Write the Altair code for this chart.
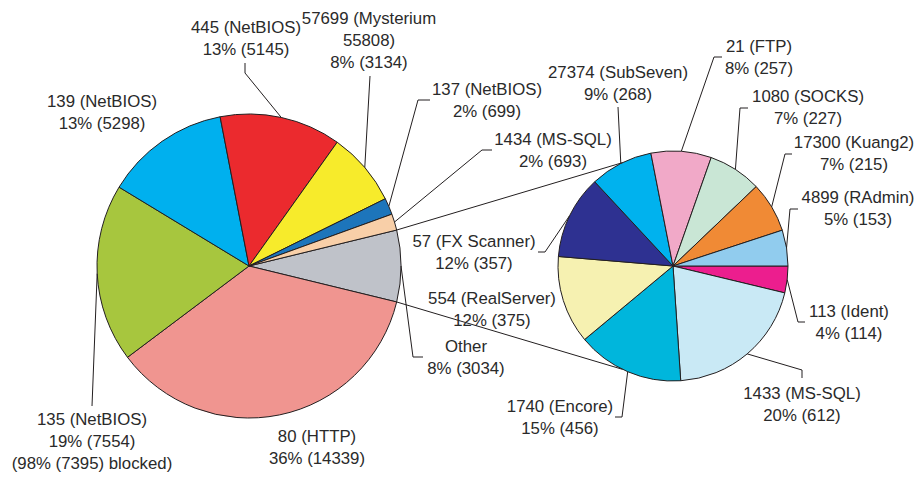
import math
import altair as alt
import pandas as pd

# ---------------- data ----------------
main_ports = ["Other", "80 (HTTP)", "135 (NetBIOS)", "139 (NetBIOS)", "445 (NetBIOS)",
              "57699 (Mysterium\n55808)", "137 (NetBIOS)", "1434 (MS-SQL)"]
main_counts = [3034, 14339, 7554, 5298, 5145, 3134, 699, 693]
main_pcts = [8, 36, 19, 13, 13, 8, 2, 2]
main_colors = ["#BFC2C9", "#F09590", "#A7C63E", "#00B0EE", "#EB2A2E",
               "#F7EB2B", "#1D75BB", "#F8CFA8"]
blocked_note = {"135 (NetBIOS)": "(98% (7395) blocked)"}

other_ports = ["113 (Ident)", "1433 (MS-SQL)", "1740 (Encore)", "554 (RealServer)",
               "57 (FX Scanner)", "27374 (SubSeven)", "21 (FTP)", "1080 (SOCKS)",
               "17300 (Kuang2)", "4899 (RAdmin)"]
other_counts = [114, 612, 456, 375, 357, 268, 257, 227, 215, 153]
other_pcts = [4, 20, 15, 12, 12, 9, 8, 7, 7, 5]
other_colors = ["#EC1E8E", "#C9E9F5", "#00B6DC", "#F6F1B1", "#2E3191",
                "#00B2EE", "#F1A9C8", "#C9E6D5", "#F08A35", "#91CCEE"]

# ---------------- layout ----------------
OFF = 8
W, H = 907, 464
MAIN_C, MAIN_R = (249, 266), 152
SUB_C, SUB_R = (673, 266), 115
FONT, FS, LH = "Liberation Sans", 16.8, 22
TEXT_COLOR, LINE_COLOR = "#2a2a2a", "#231F20"
CONNECT_ANGLE = math.radians(26)

# (x centre, y of first text line)
label_pos = {
    "Other": (466, 347),
    "80 (HTTP)": (317, 437),
    "135 (NetBIOS)": (92, 420),
    "139 (NetBIOS)": (102, 102),
    "445 (NetBIOS)": (246, 28),
    "57699 (Mysterium\n55808)": (369, 19),
    "137 (NetBIOS)": (487, 90),
    "1434 (MS-SQL)": (553, 140),
    "113 (Ident)": (849, 312),
    "1433 (MS-SQL)": (802, 394),
    "1740 (Encore)": (560, 407),
    "554 (RealServer)": (492, 299),
    "57 (FX Scanner)": (474, 242),
    "27374 (SubSeven)": (618, 73),
    "21 (FTP)": (759, 47),
    "1080 (SOCKS)": (808, 97),
    "17300 (Kuang2)": (854, 143),
    "4899 (RAdmin)": (858, 198),
}
leader_bends = {
    "Other": [(413, 357), (423, 357)],
    "135 (NetBIOS)": [(92, 406)],
    "445 (NetBIOS)": [(245, 73), (245, 63)],
    "57699 (Mysterium\n55808)": [(370, 76)],
    "137 (NetBIOS)": [(418, 100), (430, 100)],
    "1434 (MS-SQL)": [(482, 150), (492, 150)],
    "113 (Ident)": [(798, 322), (805, 322)],
    "1433 (MS-SQL)": [(802, 370), (802, 378)],
    "1740 (Encore)": [(622, 417), (615, 417)],
    "57 (FX Scanner)": [(545, 252), (538, 252)],
    "27374 (SubSeven)": [(618, 107)],
    "21 (FTP)": [(714, 57), (722, 57)],
    "1080 (SOCKS)": [(740, 108), (748, 108)],
    "17300 (Kuang2)": [(785, 154), (792, 154)],
    "4899 (RAdmin)": [(790, 209), (798, 209)],
}

main_total = sum(main_counts)
other_total = sum(other_counts)
main_start = math.pi / 2 - math.pi * main_counts[0] / main_total
sub_start = math.pi / 2


def spans(counts, start):
    total = sum(counts)
    acc, out = 0, []
    for c in counts:
        a0 = start + 2 * math.pi * acc / total
        acc += c
        a1 = start + 2 * math.pi * acc / total
        out.append((a0, a1))
    return out


def polar(center, r, a):
    return (center[0] + r * math.sin(a), center[1] - r * math.cos(a))


main_spans = spans(main_counts, main_start)
sub_spans = spans(other_counts, sub_start)

all_ports = main_ports + other_ports
all_colors = main_colors + other_colors

main_df = pd.DataFrame({"port": main_ports, "count": main_counts, "idx": range(len(main_ports))})
sub_df = pd.DataFrame({"port": other_ports, "count": other_counts, "idx": range(len(other_ports))})

# labels
text_rows = []
for ports, counts, pcts in ((main_ports, main_counts, main_pcts), (other_ports, other_counts, other_pcts)):
    for p, c, pc in zip(ports, counts, pcts):
        txt = f"{p}\n{pc}% ({c})"
        if p in blocked_note:
            txt += "\n" + blocked_note[p]
        x, y = label_pos[p]
        text_rows.append({"x": x, "y": y, "label": txt})
text_df = pd.DataFrame(text_rows)

# leader lines + connectors
line_rows = []
for ports, sp, center, r in ((main_ports, main_spans, MAIN_C, MAIN_R), (other_ports, sub_spans, SUB_C, SUB_R)):
    for p, (a0, a1) in zip(ports, sp):
        if p not in leader_bends:
            continue
        pts = [polar(center, r, (a0 + a1) / 2)] + leader_bends[p]
        for k, (x, y) in enumerate(pts):
            line_rows.append({"lid": "L_" + p, "k": k, "x": x, "y": y})
oa0, oa1 = main_spans[0]
for name, a_main, a_sub in (("C_top", oa0, 2 * math.pi - CONNECT_ANGLE),
                            ("C_bot", oa1, math.pi + CONNECT_ANGLE)):
    for k, (x, y) in enumerate([polar(MAIN_C, MAIN_R, a_main), polar(SUB_C, SUB_R, a_sub)]):
        line_rows.append({"lid": name, "k": k, "x": x, "y": y})
line_df = pd.DataFrame(line_rows)

color_scale = alt.Scale(domain=all_ports, range=all_colors)


def pie(df, center, r, start, total):
    return alt.Chart(df).mark_arc(radius=r, stroke=LINE_COLOR, strokeWidth=1).encode(
        theta=alt.Theta("count:Q", stack=True,
                        scale=alt.Scale(domain=[0, total], range=[start, start + 2 * math.pi])),
        order=alt.Order("idx:Q", sort="ascending"),
        color=alt.Color("port:N", scale=color_scale, legend=None),
        x=alt.value(center[0] - OFF),
        y=alt.value(center[1] - OFF),
    )


xs = alt.Scale(domain=[OFF, OFF + W], nice=False, zero=False)
ys = alt.Scale(domain=[OFF, OFF + H], reverse=True, nice=False, zero=False)

lines = alt.Chart(line_df).mark_line(color=LINE_COLOR, strokeWidth=1).encode(
    x=alt.X("x:Q", scale=xs, axis=None),
    y=alt.Y("y:Q", scale=ys, axis=None),
    detail="lid:N",
    order="k:Q",
)

texts = alt.Chart(text_df).mark_text(
    font=FONT, fontSize=FS, lineHeight=LH, lineBreak="\n",
    align="center", baseline="middle", color=TEXT_COLOR,
).encode(
    x=alt.X("x:Q", scale=xs, axis=None),
    y=alt.Y("y:Q", scale=ys, axis=None),
    text="label:N",
)

chart = alt.layer(
    pie(main_df, MAIN_C, MAIN_R, main_start, main_total),
    pie(sub_df, SUB_C, SUB_R, sub_start, other_total),
    lines,
    texts,
).resolve_scale(theta="independent").properties(
    width=W, height=H, padding=0, autosize=alt.AutoSizeParams(type="none"),
    background="white",
).configure_view(stroke=None)

chart.save("out.html", embed_options={"renderer": "svg", "actions": False})
